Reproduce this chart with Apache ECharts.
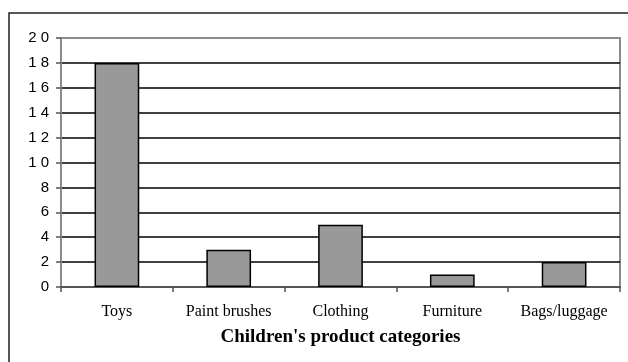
<!DOCTYPE html>
<html>
<head>
<meta charset="utf-8">
<script src="https://cdn.jsdelivr.net/npm/echarts@6/dist/echarts.min.js"></script>
<style>
  html, body { margin: 0; padding: 0; background: #fff; }
  #chart { width: 628px; height: 362px; }
</style>
</head>
<body>
<div id="chart"></div>
<script>
var categories = ['Toys', 'Paint brushes', 'Clothing', 'Furniture', 'Bags/luggage'];
var counts = [18, 3, 5, 1, 2];
var yTicks = { min: 0, max: 20, step: 2 };
var xTitle = "Children's product categories";

var chart = echarts.init(document.getElementById('chart'));

// grid lines: black, except the top one (20) which is the grey frame
var gridColors = [];
for (var i = 0; i < 10; i++) gridColors.push('#000');
gridColors.push('#8c8c8c');

chart.setOption({
  animation: false,
  backgroundColor: '#fff',
  grid: { left: 61, top: 38, right: 8, bottom: 75, show: true, borderColor: '#8c8c8c', borderWidth: 2 },
  graphic: [{
    type: 'rect', z: -1,
    shape: { x: 9, y: 13, width: 700, height: 400 },
    style: { fill: 'none', stroke: '#222', lineWidth: 1.5 }
  }],
  xAxis: {
    type: 'category',
    data: categories,
    name: xTitle,
    nameLocation: 'middle',
    nameGap: 41,
    nameTextStyle: { fontFamily: 'Liberation Serif', fontWeight: 'bold', fontSize: 19, color: '#000' },
    axisLine: { lineStyle: { color: '#555', width: 2 } },
    axisTick: { show: true, interval: 0, alignWithLabel: false, length: 5, lineStyle: { color: '#555', width: 1.5 } },
    axisLabel: { interval: 0, hideOverlap: false, fontFamily: 'Liberation Serif', fontSize: 16, color: '#000', margin: 17 },
    splitLine: { show: false }
  },
  yAxis: {
    type: 'value',
    min: yTicks.min,
    max: yTicks.max,
    interval: yTicks.step,
    axisLine: { show: true, lineStyle: { color: '#8c8c8c', width: 2 } },
    axisTick: { show: true, length: 5, lineStyle: { color: '#555', width: 1.5 } },
    axisLabel: {
      fontFamily: 'Liberation Sans', fontSize: 15, color: '#000', margin: 12,
      formatter: function (v) { return String(v).split('').join(' '); }
    },
    splitLine: { lineStyle: { color: gridColors, width: 1.5 } }
  },
  series: [{
    type: 'bar',
    data: counts,
    barWidth: '40%',
    itemStyle: { color: '#999999', borderColor: '#000', borderWidth: 1.5 }
  }]
});
</script>
</body>
</html>
